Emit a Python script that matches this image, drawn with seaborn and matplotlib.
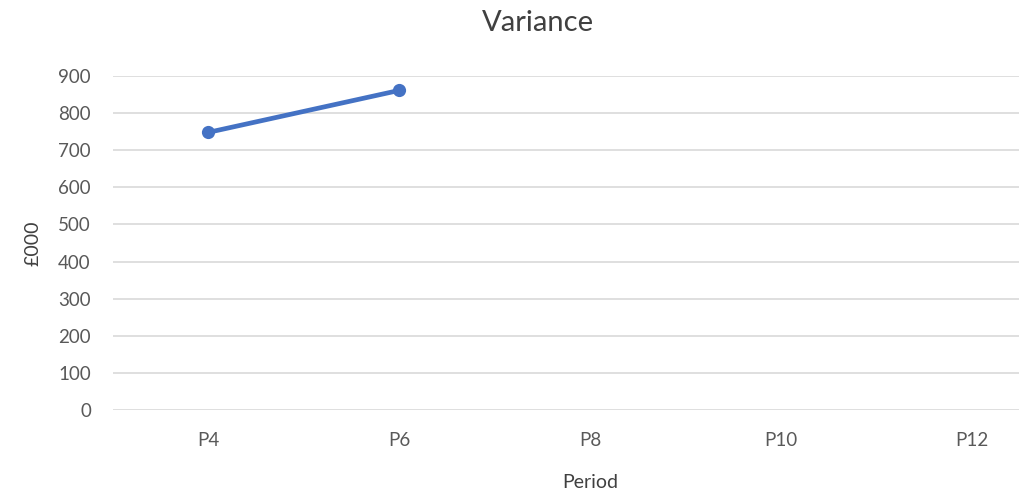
import matplotlib
matplotlib.use("Agg")
import matplotlib.pyplot as plt
import seaborn as sns
import pandas as pd

categories = ["P4", "P6", "P8", "P10", "P12"]
data_periods = ["P4", "P6"]
variance = [748, 861]
y_ticks = [0, 100, 200, 300, 400, 500, 600, 700, 800, 900]

sns.set_theme(style="white")
plt.rcParams['font.family'] = ['Lato', 'DejaVu Sans']

fig = plt.figure(figsize=(10.19, 4.92), dpi=100)
ax = fig.add_axes([0.111, 0.1667, 0.936, 0.679])

df = pd.DataFrame({"pos": [categories.index(p) for p in data_periods], "val": variance})
sns.lineplot(data=df, x="pos", y="val", ax=ax, color="#4472C4", linewidth=3.4,
             marker="o", markersize=9.5, markeredgewidth=0, zorder=3)

ax.set_xlim(-0.5, len(categories) - 0.5)
ax.set_ylim(0, 900)
ax.set_xticks(range(len(categories)))
ax.set_xticklabels(categories)
ax.set_yticks(y_ticks)
ax.grid(axis="y", color="#d9d9d9", linewidth=1.2)
ax.grid(axis="x", visible=False)
for s in ax.spines.values():
    s.set_visible(False)
ax.tick_params(axis="both", colors="#595959", labelsize=13.5, length=0)
ax.tick_params(axis="x", pad=16)
ax.tick_params(axis="y", pad=16)

ax.set_xlabel("Period", fontsize=14, color="#404040", labelpad=18)
ax.set_ylabel("£000", fontsize=14, color="#404040", labelpad=12)
fig.text(0.528, 0.953, "Variance", ha="center", va="center", fontsize=21, color="#404040")

fig.savefig("out.png", dpi=100)
